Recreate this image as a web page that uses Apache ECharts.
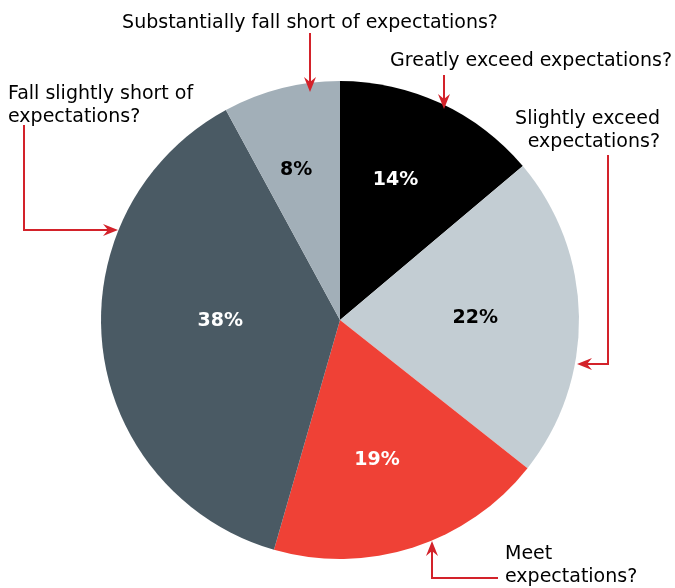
<!DOCTYPE html>
<html><head><meta charset="utf-8">
<script src="https://cdn.jsdelivr.net/npm/echarts@6/dist/echarts.min.js"></script>
<style>html,body{margin:0;padding:0;background:#fff}#c{width:675px;height:588px}</style>
</head><body><div id="c"></div>
<script>
const categories = ['Greatly exceed expectations?', 'Slightly exceed\nexpectations?', 'Meet\nexpectations?', 'Fall slightly short of\nexpectations?', 'Substantially fall short of expectations?'];
const values = [14, 22, 19, 38, 8];
const colors = ['#000000', '#c3cdd3', '#ef4136', '#4a5a64', '#a2afb8'];
const labelColors = ['#ffffff', '#000000', '#ffffff', '#ffffff', '#000000'];

const RED = '#d3222a';
const FONT = 'DejaVu Sans';
const CX = 340, CY = 320;
const labelScale = [1.25, 1.12, 1.2, 1.0, 1.32];
const labelNudge = [[-9, -1], [-2, 0], [-8, 0], [2, -12], [-4, 7]];

function arrowHead(x, y, dir) {
  const L = 15, W = 6, N = 5;
  let pts;
  if (dir === 'down') pts = [[x, y], [x - W, y - L], [x, y - L + N], [x + W, y - L]];
  if (dir === 'up') pts = [[x, y], [x - W, y + L], [x, y + L - N], [x + W, y + L]];
  if (dir === 'right') pts = [[x, y], [x - L, y - W], [x - L + N, y], [x - L, y + W]];
  if (dir === 'left') pts = [[x, y], [x + L, y - W], [x + L - N, y], [x + L, y + W]];
  return { type: 'polygon', shape: { points: pts }, style: { fill: RED }, z: 10 };
}
function line(points) {
  return { type: 'polyline', shape: { points: points }, style: { stroke: RED, lineWidth: 2, fill: null }, z: 10 };
}
function txt(text, x, y, align) {
  return { type: 'text', x: x, y: y, z: 10,
    style: { text: text, font: '19px "' + FONT + '"', fill: '#000', align: align, verticalAlign: 'top', lineHeight: 23 } };
}

const chart = echarts.init(document.getElementById('c'));
chart.setOption({
  animation: false,
  series: [{
    type: 'pie',
    center: [CX, CY],
    radius: 239,
    startAngle: 90,
    clockwise: true,
    silent: true,
    label: {
      position: 'inside',
      formatter: p => p.value + '%',
      fontFamily: FONT, fontWeight: 'bold', fontSize: 19
    },
    labelLine: { show: false },
    labelLayout: function (p) {
      const r = p.labelRect;
      const lx = r.x + r.width / 2, ly = r.y + r.height / 2;
      const s = labelScale[p.dataIndex];
      const n = labelNudge[p.dataIndex];
      return { x: CX + (lx - CX) * s + n[0], y: CY + (ly - CY) * s + n[1], align: 'center', verticalAlign: 'middle' };
    },
    data: categories.map((c, i) => ({
      name: c, value: values[i],
      itemStyle: { color: colors[i] },
      label: { color: labelColors[i] }
    }))
  }],
  graphic: [
    txt(categories[4], 310, 12, 'center'),
    line([[310, 33], [310, 82]]), arrowHead(310, 92, 'down'),

    txt(categories[0], 672, 50, 'right'),
    line([[444, 75], [444, 100]]), arrowHead(444, 109, 'down'),

    txt(categories[1], 660, 108, 'right'),
    line([[608, 155], [608, 364], [586, 364]]), arrowHead(577, 364, 'left'),

    txt(categories[3], 8, 83, 'left'),
    line([[24, 125], [24, 230], [108, 230]]), arrowHead(118, 230, 'right'),

    txt(categories[2], 505, 543, 'left'),
    line([[498, 578], [432, 578], [432, 550]]), arrowHead(432, 541, 'up')
  ]
});
</script></body></html>
